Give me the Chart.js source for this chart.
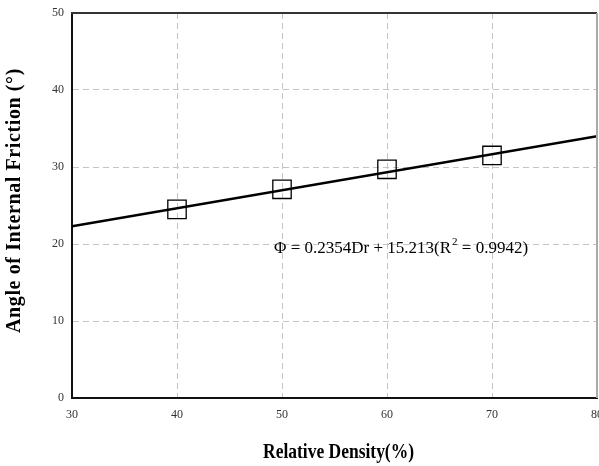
<!DOCTYPE html>
<html>
<head>
<meta charset="utf-8">
<script src="https://cdn.jsdelivr.net/npm/chart.js@4"></script>
<style>
    html, body { margin: 0; padding: 0; background: #fff; }
    #wrap { width: 599px; height: 466px; }
</style>
</head>
<body>
<div id="wrap"><canvas id="chart"></canvas></div>
<script>
const densities = [40, 50, 60, 70];
const frictionAngles = [24.5, 27.1, 29.7, 31.5];
const fitX = [30, 80];
const fitY = [22.3, 34.0];
const xTicks = [30, 40, 50, 60, 70, 80];
const yTicks = [0, 10, 20, 30, 40, 50];
const xTitle = 'Relative Density(%)';
const yTitle = 'Angle of Internal Friction (°)';
const eqMain = 'Φ = 0.2354Dr + 15.213(R';
const eqSup = '2';
const eqTail = ' = 0.9942)';

const serif = '"Liberation Serif", "Times New Roman", serif';

// frame top/right, axis titles and the regression label
const framePlugin = {
    id: 'frame',
    afterDraw(chart) {
        const {ctx, chartArea} = chart;
        const {left, top, right, bottom} = chartArea;
        const x = chart.scales.x;
        const y = chart.scales.y;
        ctx.save();
        ctx.lineWidth = 2;
        ctx.strokeStyle = '#333';
        ctx.beginPath();
        ctx.moveTo(left - 1, top);
        ctx.lineTo(right, top);
        ctx.stroke();
        ctx.strokeStyle = '#aaa';
        ctx.beginPath();
        ctx.moveTo(right, top);
        ctx.lineTo(right, bottom);
        ctx.stroke();

        ctx.fillStyle = '#000';

        // y title
        ctx.save();
        ctx.translate(15, (top + bottom) / 2 - 5);
        ctx.rotate(-Math.PI / 2);
        ctx.font = 'bold 20px ' + serif;
        ctx.letterSpacing = '0.6px';
        ctx.textAlign = 'center';
        ctx.textBaseline = 'middle';
        ctx.fillText(yTitle, 0, 0);
        ctx.restore();

        // x title, narrow and tall
        ctx.save();
        ctx.font = 'bold 21px ' + serif;
        const w = ctx.measureText(xTitle).width;
        ctx.translate((left + right) / 2 + 4, 458);
        ctx.scale(151 / w, 1);
        ctx.textAlign = 'center';
        ctx.textBaseline = 'alphabetic';
        ctx.fillText(xTitle, 0, 0);
        ctx.restore();

        // equation label
        let tx = x.getPixelForValue(50) - 8;
        const ty = y.getPixelForValue(18.8);
        ctx.textBaseline = 'alphabetic';
        ctx.font = '17px ' + serif;
        ctx.fillText(eqMain, tx, ty);
        tx += ctx.measureText(eqMain).width + 1;
        ctx.font = '11px ' + serif;
        ctx.fillText(eqSup, tx, ty - 8);
        tx += ctx.measureText(eqSup).width;
        ctx.font = '17px ' + serif;
        ctx.fillText(eqTail, tx, ty);
        ctx.restore();
    }
};

function gridColor(min, max) {
    return (c) => (c.tick.value === min || c.tick.value === max) ? 'rgba(0,0,0,0)' : '#c4c4c4';
}

new Chart(document.getElementById('chart'), {
    type: 'scatter',
    data: {
        datasets: [{
            type: 'line',
            data: fitX.map((v, i) => ({x: v, y: fitY[i]})),
            borderColor: '#000',
            borderWidth: 2.5,
            pointRadius: 0,
            fill: false,
            order: 0
        }, {
            data: densities.map((v, i) => ({x: v, y: frictionAngles[i]})),
            pointStyle: 'rect',
            pointRadius: 13,
            pointHoverRadius: 13,
            backgroundColor: 'rgba(0,0,0,0)',
            borderColor: '#000',
            borderWidth: 1.3,
            order: 1
        }]
    },
    options: {
        responsive: true,
        maintainAspectRatio: false,
        animation: false,
        layout: {
            autoPadding: false,
            padding: {top: 13, right: 2, left: 0, bottom: 0}
        },
        plugins: {
            legend: {display: false},
            tooltip: {enabled: false}
        },
        scales: {
            x: {
                type: 'linear',
                min: 30,
                max: 80,
                afterBuildTicks: (s) => { s.ticks = xTicks.map(v => ({value: v})); },
                afterFit: (s) => { s.height = 68; s.paddingLeft = 0; s.paddingRight = 0; },
                ticks: {
                    color: '#333',
                    padding: 10,
                    maxRotation: 0,
                    font: {family: serif, size: 12}
                },
                grid: {
                    color: gridColor(30, 80),
                    lineWidth: 1,
                    drawTicks: false
                },
                border: {color: '#111', width: 2, dash: [6, 4]}
            },
            y: {
                type: 'linear',
                min: 0,
                max: 50,
                afterBuildTicks: (s) => { s.ticks = yTicks.map(v => ({value: v})); },
                afterFit: (s) => { s.width = 72; s.paddingTop = 0; s.paddingBottom = 0; },
                ticks: {
                    color: '#333',
                    padding: 8,
                    font: {family: serif, size: 12}
                },
                grid: {
                    color: gridColor(0, 50),
                    lineWidth: 1,
                    drawTicks: false
                },
                border: {color: '#111', width: 2, dash: [6, 4]}
            }
        }
    },
    plugins: [framePlugin]
});
</script>
</body>
</html>
